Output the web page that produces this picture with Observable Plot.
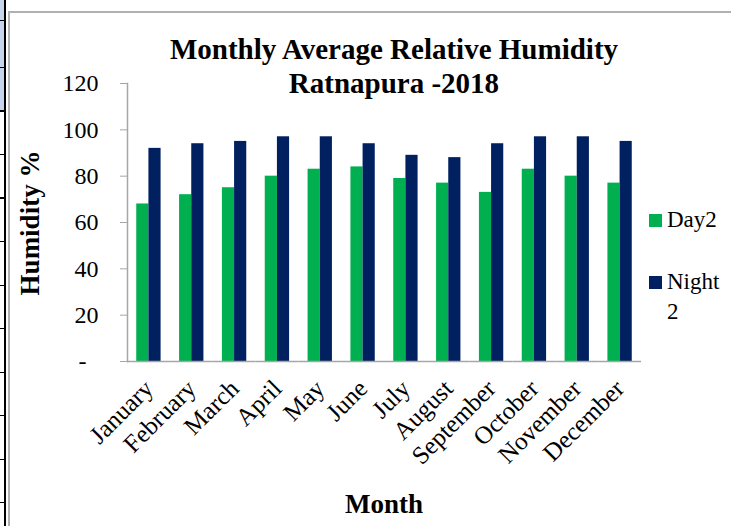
<!DOCTYPE html>
<html><head><meta charset="utf-8">
<script src="https://cdn.jsdelivr.net/npm/d3@7"></script>
<script src="https://cdn.jsdelivr.net/npm/@observablehq/plot@0.6"></script>
<style>
html,body{margin:0;padding:0;background:#fff;}
#wrap{position:relative;width:731px;height:526px;overflow:hidden;font-family:"Liberation Serif","Times New Roman",serif;color:#000;}
#chart{position:absolute;left:0;top:0;}
#chart svg{display:block;}
#chart svg text{font-family:"Liberation Serif","Times New Roman",serif;}
.sidefill{position:absolute;left:0;top:0;width:4px;height:110px;background:#c6d4ee;}
.sideline{position:absolute;left:4px;top:0;width:2px;height:526px;background:#000;}
.sideticks{position:absolute;left:0;top:0;width:5px;height:526px;
  background:repeating-linear-gradient(to bottom,transparent 0,transparent 42px,#000 42px,#000 43.5px);
  background-position:0 25px;}
.frame{position:absolute;left:8px;top:11px;width:760px;height:560px;border-left:2px solid #b0b0b0;border-top:2px solid #b0b0b0;}
#title{position:absolute;left:94px;width:600px;top:32px;text-align:center;font-weight:bold;font-size:29px;line-height:34px;}
#ylabel{position:absolute;left:30px;top:223px;transform:translate(-50%,-50%) rotate(-90deg);font-weight:bold;font-size:27px;white-space:nowrap;}
#xlabel{position:absolute;left:384px;top:489px;transform:translateX(-50%);font-weight:bold;font-size:27px;white-space:nowrap;}
#legend{position:absolute;left:649px;top:205px;font-size:23px;}
.item{position:relative;padding-left:18px;width:58px;line-height:30px;margin-bottom:3px;}
.sw{position:absolute;left:0;top:9px;width:13px;height:13px;}
</style></head>
<body>
<div id="wrap">
  <div class="frame"></div>
  <div class="sidefill"></div>
  <div class="sideticks"></div>
  <div class="sideline"></div>
  <div id="chart"></div>
  <div id="title"></div>
  <div id="ylabel"></div>
  <div id="xlabel"></div>
  <div id="legend"></div>
</div>
<script>
const titleLines = ["Monthly Average Relative Humidity", "Ratnapura -2018"];
const yLabel = "Humidity %";
const xLabel = "Month";
const months = ["January","February","March","April","May","June","July","August","September","October","November","December"];
const day2 = [68,72,75,80,83,84,79,77,73,83,80,77];
const night2 = [92,94,95,97,97,94,89,88,94,97,97,95];
const seriesNames = ["Day2","Night 2"];
const seriesColors = ["#00B050","#002060"];
const yTicks = [0,20,40,60,80,100,120];
const yTickLabels = ["-\u2007","20","40","60","80","100","120"];

const data = months.flatMap((m,i)=>[
  {month:m, series:seriesNames[0], value:day2[i]},
  {month:m, series:seriesNames[1], value:night2[i]}
]);

document.getElementById("title").innerHTML = titleLines.join("<br>");
document.getElementById("ylabel").textContent = yLabel;
document.getElementById("xlabel").textContent = xLabel;
const legend = document.getElementById("legend");
seriesNames.forEach((s,i)=>{
  const d = document.createElement("div");
  d.className = "item";
  d.style.marginBottom = i===0 ? "32px" : "0";
  const sw = document.createElement("span");
  sw.className = "sw"; sw.style.background = seriesColors[i];
  d.appendChild(sw);
  d.appendChild(document.createTextNode(s));
  legend.appendChild(d);
});

const chart = Plot.plot({
  width:731, height:526,
  marginLeft:127, marginRight:90, marginTop:83, marginBottom:165,
  style:{fontFamily:"Liberation Serif", fontSize:"23px", color:"black", background:"transparent", overflow:"visible"},
  fx:{domain:months, padding:0, paddingInner:0, paddingOuter:0, round:false, label:null},
  x:{domain:seriesNames, paddingInner:0, paddingOuter:0.76, round:false, axis:null},
  y:{domain:[0,120]},
  color:{domain:seriesNames, range:seriesColors},
  marks:[
    Plot.barY(data,{fx:"month", x:"series", y:"value", fill:"series"}),
    Plot.ruleY([0],{stroke:"#a6a6a6", strokeWidth:1.5}),
    Plot.frame({anchor:"left", facetAnchor:"left", stroke:"#a6a6a6", strokeWidth:1.5}),
    Plot.axisY({ticks:yTicks, tickFormat:d=>yTickLabels[yTicks.indexOf(d)], tickSize:7, tickPadding:22, stroke:"#a6a6a6", fill:"black", label:null, fontSize:24, fontFamily:"Liberation Serif"}),
    Plot.axisFx({anchor:"bottom", tickRotate:-45, tickSize:0, tickPadding:23, label:null, fontSize:25, fill:"black", fontFamily:"Liberation Serif"})
  ]
});
document.getElementById("chart").appendChild(chart);
</script>
</body></html>
